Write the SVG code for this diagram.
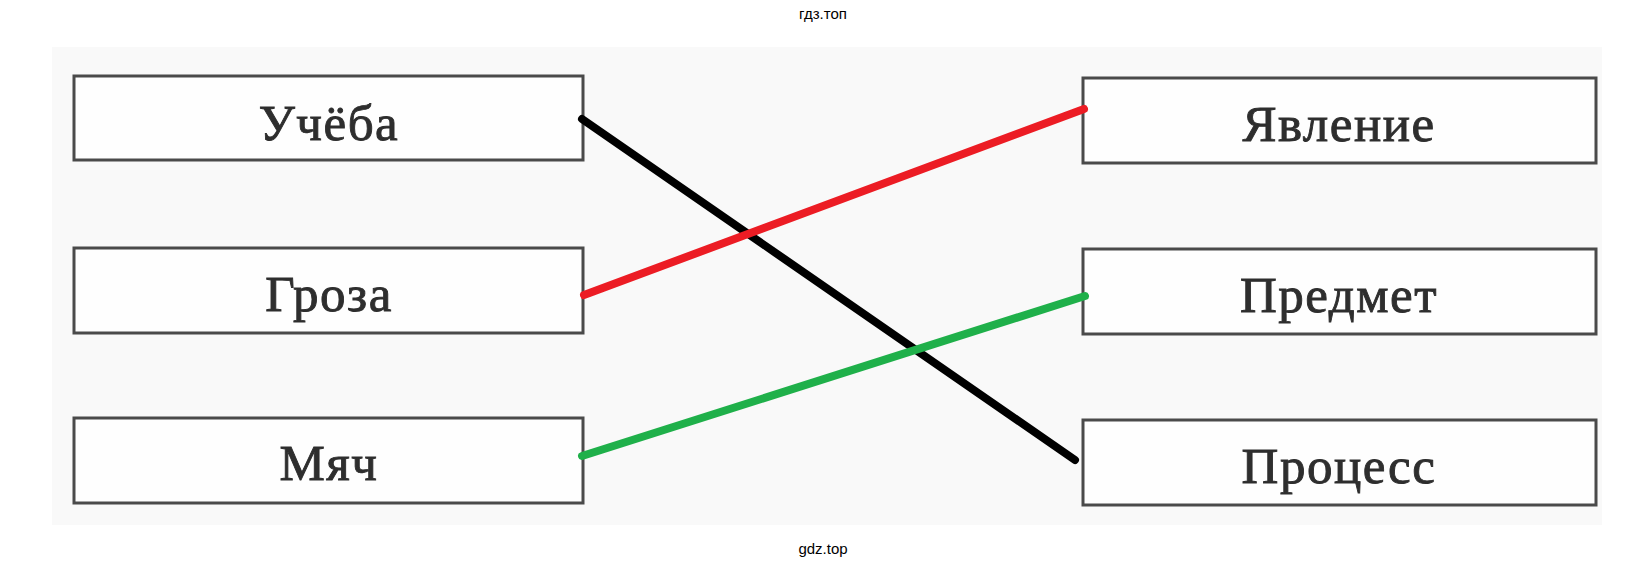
<svg xmlns="http://www.w3.org/2000/svg" width="1645" height="571" viewBox="0 0 1645 571">
  <style>
    .box { fill: #fefefe; stroke: #4a4a4a; stroke-width: 3; }
    .lbl { font-family: "Liberation Serif", "DejaVu Serif", serif; font-size: 51px; fill: #2e2e2e; stroke: #2e2e2e; stroke-width: 0.9px; text-anchor: middle; letter-spacing: 1.5px; }
    .wm { font-family: "Liberation Sans", Arial, sans-serif; font-size: 15px; fill: #000; text-anchor: middle; }
    .link { stroke-width: 8; stroke-linecap: round; fill: none; }
  </style>
  <rect x="0" y="0" width="1645" height="571" fill="#ffffff"/>
  <rect id="scan" x="52" y="47" width="1550" height="478" fill="#f9f9f9"/>
  <text class="wm" x="823" y="19">гдз.топ</text>
  <text class="wm" x="823" y="554">gdz.top</text>

  <g id="node-ucheba">
    <rect class="box" x="74" y="76" width="509" height="84"/>
    <text class="lbl" x="329" y="140">Учёба</text>
  </g>
  <g id="node-groza">
    <rect class="box" x="74" y="248" width="509" height="85"/>
    <text class="lbl" x="329" y="311">Гроза</text>
  </g>
  <g id="node-myach">
    <rect class="box" x="74" y="418" width="509" height="85"/>
    <text class="lbl" x="329" y="480">Мяч</text>
  </g>
  <g id="node-yavlenie">
    <rect class="box" x="1083" y="78" width="513" height="85"/>
    <text class="lbl" x="1339" y="141">Явление</text>
  </g>
  <g id="node-predmet">
    <rect class="box" x="1083" y="249" width="513" height="85"/>
    <text class="lbl" x="1339" y="312">Предмет</text>
  </g>
  <g id="node-protsess">
    <rect class="box" x="1083" y="420" width="513" height="85"/>
    <text class="lbl" x="1339" y="483">Процесс</text>
  </g>

  <g id="connectors">
    <line class="link" x1="582" y1="119" x2="1075" y2="460" stroke="#000000"/>
    <line class="link" x1="584" y1="295" x2="1084" y2="109" stroke="#ec1c24"/>
    <line class="link" x1="582" y1="456" x2="1085" y2="296" stroke="#1fb04a"/>
  </g>
</svg>
